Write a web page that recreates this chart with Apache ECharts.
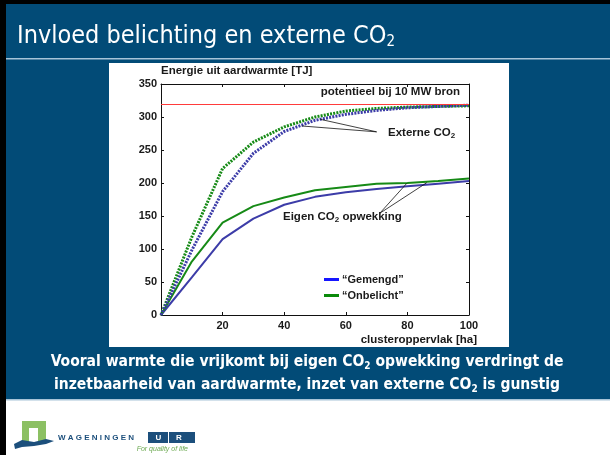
<!DOCTYPE html>
<html>
<head>
<meta charset="utf-8">
<script src="https://cdn.jsdelivr.net/npm/echarts@6/dist/echarts.min.js"></script>
<style>
  html, body { margin: 0; padding: 0; background: #fff; }
  #chart { width: 610px; height: 455px; }
</style>
</head>
<body>
<div id="chart"></div>
<script>
// clusteroppervlak [ha]
const area = [0, 10, 20, 30, 40, 50, 60, 70, 80, 90, 100]
// energie uit aardwarmte [TJ]
const gemengdEigen = [0, 57, 115, 146, 167, 179, 186, 191, 195, 199, 203]
const onbelichtEigen = [0, 81, 140, 165, 178, 189, 194, 199, 200, 203, 207]
const gemengdExtern = [0, 98, 187, 245, 278, 295, 304, 310, 314, 316, 318]
const onbelichtExtern = [0, 118, 222, 262, 285, 300, 309, 313, 315, 316, 317]
const potentieel = 319
const yTicks = [0, 350, 50]
const xTicks = [0, 100, 20]

const pairs = arr => area.map((x, i) => [x, arr[i]])

const BLUE = '#3c3ca8'
const GREEN = '#168a16'
const FONT = 'Liberation Sans, Arial, sans-serif'
const NARROW = '"Liberation Sans Narrow", "DejaVu Sans Condensed", sans-serif'
const SLIDE = '#024b77'

const chart = echarts.init(document.getElementById('chart'))

const axisBase = {
  type: 'value',
  axisLine: { show: true, onZero: false, lineStyle: { color: '#111', width: 1 } },
  axisTick: { show: true, inside: true, length: 3, lineStyle: { color: '#111' } },
  splitLine: { show: false },
}
const labelFont = { color: '#1a1a1a', fontWeight: 'bold', fontSize: 11, fontFamily: FONT }
const sub = (size, line) => ({ fill: '#1a1a1a', fontSize: size, fontWeight: 'bold', fontFamily: FONT, lineHeight: line })

const option = {
  animation: false,
  backgroundColor: '#fff',
  grid: { left: 161, right: 141, top: 84, bottom: 140 },
  xAxis: [
    Object.assign({}, axisBase, {
      min: xTicks[0], max: xTicks[1], interval: xTicks[2], position: 'bottom',
      axisLabel: Object.assign({ margin: 5, formatter: v => (v === 0 ? '' : v) }, labelFont),
    }),
    Object.assign({}, axisBase, {
      min: xTicks[0], max: xTicks[1], interval: xTicks[2], position: 'top',
      axisLabel: { show: false },
    }),
  ],
  yAxis: [
    Object.assign({}, axisBase, {
      min: yTicks[0], max: yTicks[1], interval: yTicks[2], position: 'left',
      axisLabel: Object.assign({ margin: 4 }, labelFont),
    }),
    Object.assign({}, axisBase, {
      min: yTicks[0], max: yTicks[1], interval: yTicks[2], position: 'right',
      axisLabel: { show: false },
    }),
  ],
  legend: {
    orient: 'vertical',
    left: 324,
    top: 274,
    padding: 0,
    itemGap: 5,
    icon: 'rect',
    itemWidth: 15,
    itemHeight: 3,
    selectedMode: false,
    textStyle: Object.assign({}, labelFont, { padding: [0, 0, 0, -2] }),
    data: [
      { name: '“Gemengd”', itemStyle: { color: '#1616ff' } },
      { name: '“Onbelicht”', itemStyle: { color: '#0a8a0a' } },
    ],
  },
  series: [
    {
      name: '“Gemengd”',
      type: 'line',
      showSymbol: false,
      data: pairs(gemengdEigen),
      lineStyle: { color: BLUE, width: 2 },
      itemStyle: { color: BLUE },
      z: 3,
      markLine: {
        silent: true,
        symbol: 'none',
        label: { show: false },
        lineStyle: { color: '#111', width: 0.8, type: 'solid' },
        data: [
          [{ coord: [71, 154] }, { coord: [79.8, 199.5] }],
          [{ coord: [71, 154] }, { coord: [86.3, 200.5] }],
          [{ coord: [70, 277.5] }, { coord: [51.7, 296.5] }],
          [{ coord: [70, 277.5] }, { coord: [45.7, 286.4] }],
        ],
      },
    },
    {
      name: '“Onbelicht”',
      type: 'line',
      showSymbol: false,
      data: pairs(onbelichtEigen),
      lineStyle: { color: GREEN, width: 2 },
      itemStyle: { color: GREEN },
      z: 3,
    },
    {
      name: 'Gemengd extern',
      type: 'line',
      showSymbol: false,
      data: pairs(gemengdExtern),
      lineStyle: { color: BLUE, width: 3, type: [2, 1.2] },
      itemStyle: { color: BLUE },
      z: 4,
      markLine: {
        silent: true,
        symbol: 'none',
        label: { show: false },
        lineStyle: { color: '#ff3b3b', width: 1, type: 'solid' },
        data: [{ yAxis: potentieel }],
      },
    },
    {
      name: 'Onbelicht extern',
      type: 'line',
      showSymbol: false,
      data: pairs(onbelichtExtern),
      lineStyle: { color: GREEN, width: 3, type: [2, 1.2] },
      itemStyle: { color: GREEN },
      z: 3,
    },
  ],
  graphic: [
    // slide background
    { type: 'rect', z: -10, shape: { x: 0, y: 0, width: 610, height: 455 }, style: { fill: '#fff' } },
    { type: 'rect', z: -9, shape: { x: 6, y: 4, width: 604, height: 396 }, style: { fill: SLIDE } },
    { type: 'rect', z: -9, shape: { x: 0, y: 0, width: 610, height: 4 }, style: { fill: '#000' } },
    { type: 'rect', z: -9, shape: { x: 0, y: 0, width: 6, height: 455 }, style: { fill: '#000' } },
    { type: 'rect', z: -8, shape: { x: 6, y: 58, width: 604, height: 1.5 }, style: { fill: '#a8c4d8' } },
    { type: 'rect', z: -8, shape: { x: 6, y: 399, width: 604, height: 1.5 }, style: { fill: '#a8c4d8' } },
    { type: 'rect', z: -8, shape: { x: 109, y: 63, width: 400, height: 284 }, style: { fill: '#fff' } },
    // title
    {
      type: 'text', z: 10, x: 17, y: 36,
      style: {
        text: '{t|Invloed belichting en externe CO}{s|2}',
        verticalAlign: 'middle',
        rich: {
          t: { fill: '#fff', fontSize: 25, fontFamily: NARROW, lineHeight: 28 },
          s: { fill: '#fff', fontSize: 15, fontFamily: NARROW, lineHeight: 16, verticalAlign: 'bottom' },
        },
      },
    },
    // axis names and chart annotations
    {
      type: 'text', z: 10, x: 161, y: 71,
      style: { text: 'Energie uit aardwarmte [TJ]', verticalAlign: 'middle', fill: '#1a1a1a', font: 'bold 11.5px ' + FONT },
    },
    {
      type: 'text', z: 10, x: 477, y: 340,
      style: { text: 'clusteroppervlak [ha]', align: 'right', verticalAlign: 'middle', fill: '#1a1a1a', font: 'bold 11.5px ' + FONT },
    },
    {
      type: 'text', z: 10, x: 460, y: 92,
      style: { text: 'potentieel bij 10 MW bron', align: 'right', verticalAlign: 'middle', fill: '#1a1a1a', font: 'bold 11.5px ' + FONT },
    },
    {
      type: 'text', z: 10, x: 388, y: 133,
      style: {
        text: '{a|Externe CO}{s|2}',
        verticalAlign: 'middle',
        rich: { a: sub(11.5, 14), s: Object.assign(sub(8, 10), { verticalAlign: 'bottom' }) },
      },
    },
    {
      type: 'text', z: 10, x: 283, y: 217,
      style: {
        text: '{a|Eigen CO}{s|2}{a| opwekking}',
        verticalAlign: 'middle',
        rich: { a: sub(11.5, 14), s: Object.assign(sub(8, 10), { verticalAlign: 'bottom' }) },
      },
    },
    // conclusion
    {
      type: 'text', z: 10, x: 307, y: 362,
      style: {
        text: '{b|Vooral warmte die vrijkomt bij eigen CO}{s|2}{b| opwekking verdringt de}',
        align: 'center', verticalAlign: 'middle',
        rich: {
          b: { fill: '#fff', fontSize: 15.5, fontWeight: 'bold', fontFamily: NARROW, lineHeight: 19 },
          s: { fill: '#fff', fontSize: 10, fontWeight: 'bold', fontFamily: NARROW, lineHeight: 11, verticalAlign: 'bottom' },
        },
      },
    },
    {
      type: 'text', z: 10, x: 307, y: 385,
      style: {
        text: '{b|inzetbaarheid van aardwarmte, inzet van externe CO}{s|2}{b| is gunstig}',
        align: 'center', verticalAlign: 'middle',
        rich: {
          b: { fill: '#fff', fontSize: 15.5, fontWeight: 'bold', fontFamily: NARROW, lineHeight: 19 },
          s: { fill: '#fff', fontSize: 10, fontWeight: 'bold', fontFamily: NARROW, lineHeight: 11, verticalAlign: 'bottom' },
        },
      },
    },
    // logo
    { type: 'rect', z: 10, shape: { x: 22, y: 421, width: 24, height: 21 }, style: { fill: '#8cc063' } },
    { type: 'rect', z: 11, shape: { x: 29, y: 428, width: 9, height: 14 }, style: { fill: '#fff' } },
    {
      type: 'polygon', z: 12,
      shape: { points: [[14, 444], [22, 440], [34, 442], [46, 439], [54, 441], [46, 444], [34, 446], [22, 447], [15, 449]] },
      style: { fill: '#1c4f7c' },
    },
    {
      type: 'text', z: 10, x: 58, y: 438,
      style: { text: 'W A G E N I N G E N', verticalAlign: 'middle', fill: '#1c4f7c', font: 'bold 8px ' + FONT },
    },
    { type: 'rect', z: 10, shape: { x: 148, y: 432, width: 47, height: 11 }, style: { fill: '#1c4f7c' } },
    { type: 'rect', z: 11, shape: { x: 168, y: 432, width: 1, height: 11 }, style: { fill: '#fff' } },
    {
      type: 'text', z: 12, x: 158.5, y: 438,
      style: { text: 'U', align: 'center', verticalAlign: 'middle', fill: '#fff', font: 'bold 8px ' + FONT },
    },
    {
      type: 'text', z: 12, x: 179, y: 438,
      style: { text: 'R', align: 'center', verticalAlign: 'middle', fill: '#fff', font: 'bold 8px ' + FONT },
    },
    {
      type: 'text', z: 10, x: 188, y: 449,
      style: { text: 'For quality of life', align: 'right', verticalAlign: 'middle', fill: '#6aa84f', font: 'italic 7px ' + FONT },
    },
  ],
}

chart.setOption(option)
</script>
</body>
</html>
